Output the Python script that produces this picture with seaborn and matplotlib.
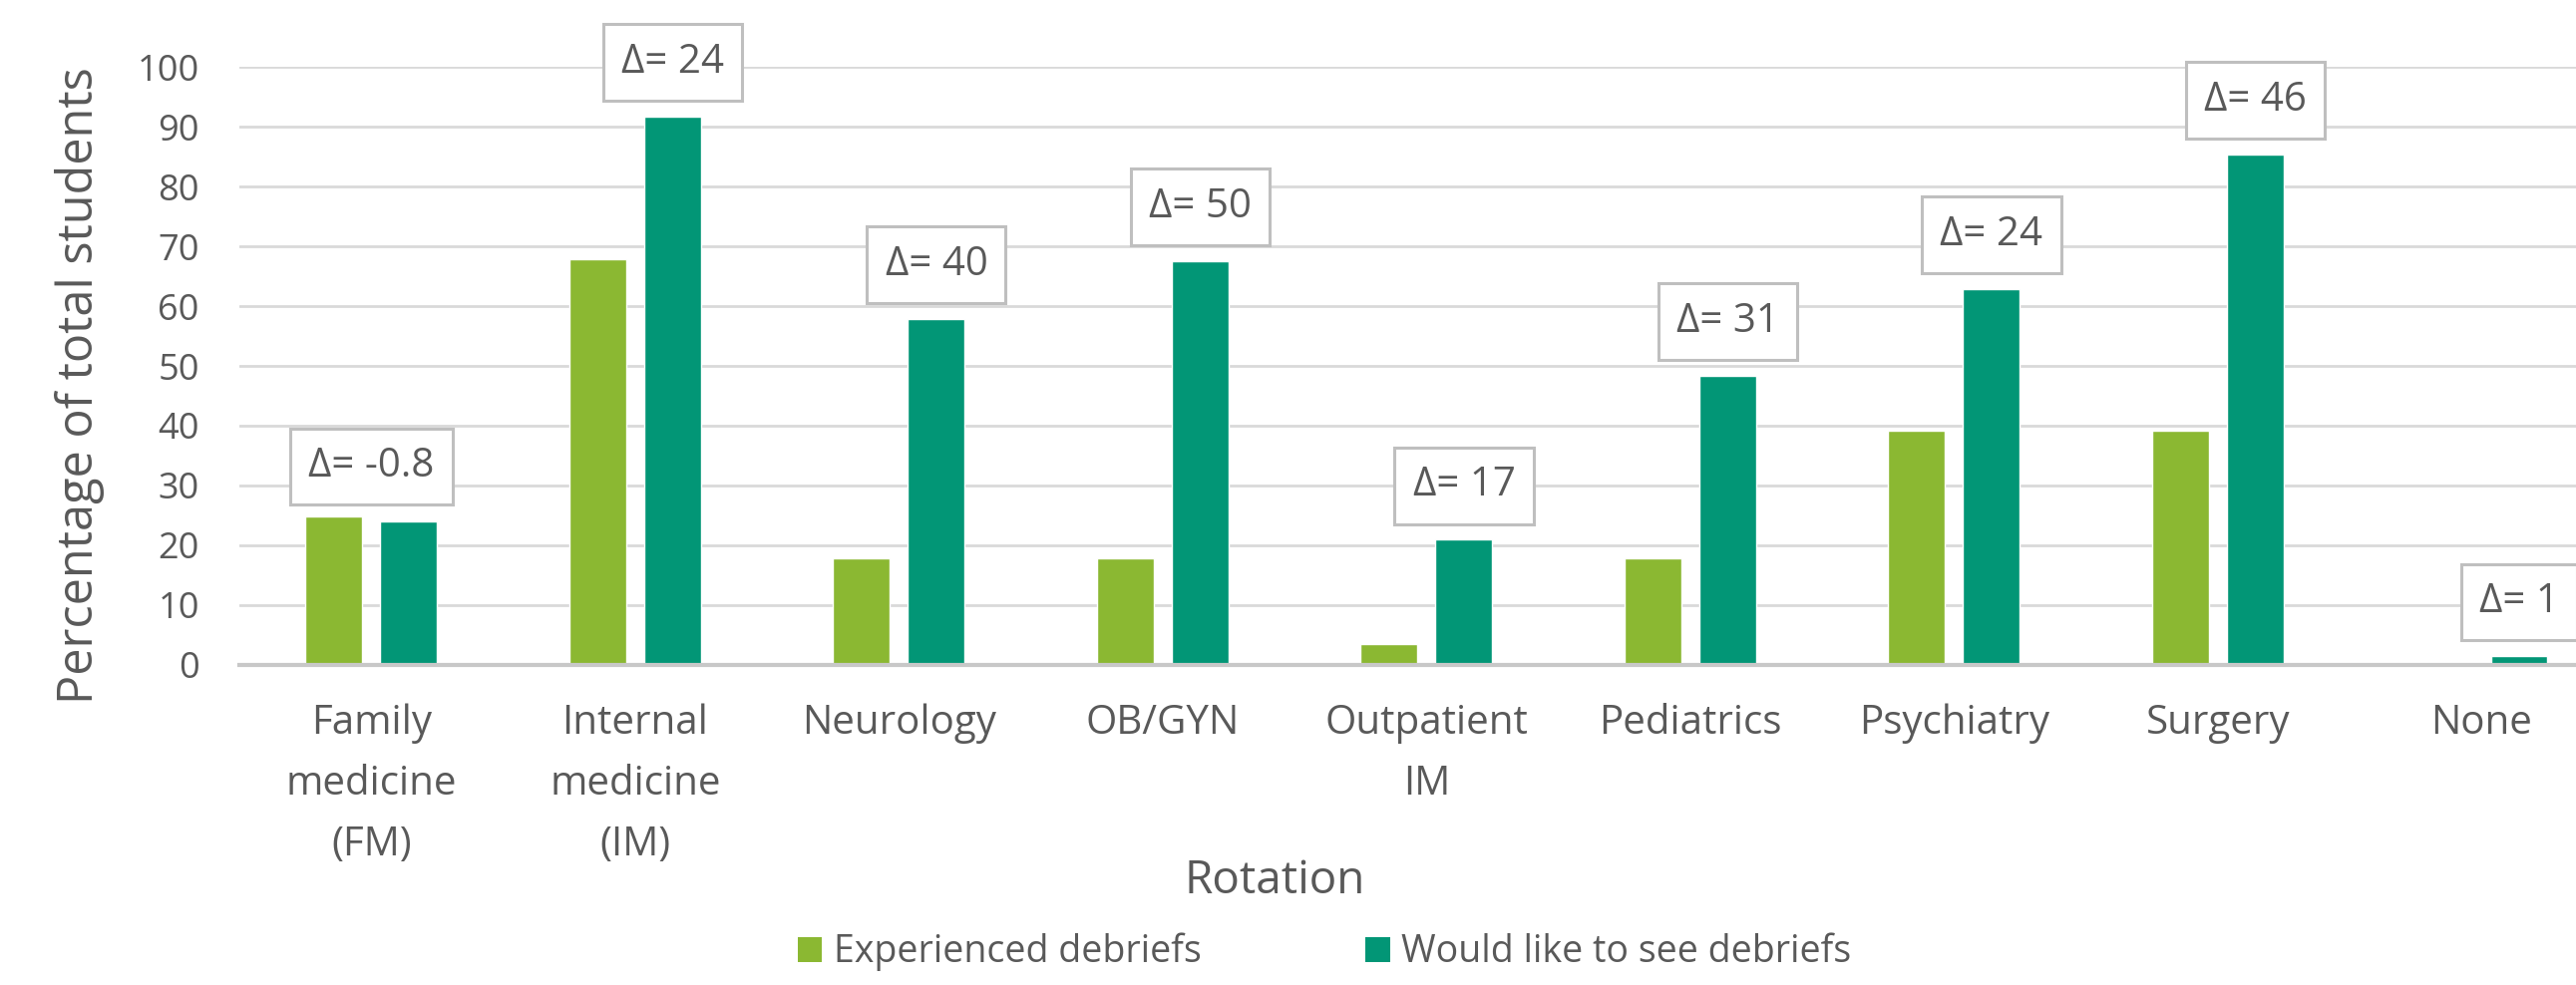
import matplotlib
matplotlib.use("Agg")
import matplotlib.pyplot as plt
from matplotlib.patches import Patch
import seaborn as sns
import pandas as pd

# Rotation categories and survey percentages
rotations = ["Family\nmedicine\n(FM)", "Internal\nmedicine\n(IM)", "Neurology", "OB/GYN",
             "Outpatient\nIM", "Pediatrics", "Psychiatry", "Surgery", "None"]
series = ["Experienced debriefs", "Would like to see debriefs"]
experienced = [24.8, 67.9, 17.7, 17.7, 3.5, 17.7, 39.1, 39.1, 0.0]
would_like = [24.0, 91.8, 57.9, 67.6, 20.9, 48.4, 62.9, 85.4, 1.4]
delta_labels = ["Δ= -0.8", "Δ= 24", "Δ= 40", "Δ= 50", "Δ= 17", "Δ= 31", "Δ= 24", "Δ= 46", "Δ= 1"]
y_ticks = list(range(0, 101, 10))

colors = ["#8BB832", "#029676"]
text_color = "#595959"

sns.set_theme(style="white")
plt.rcParams["font.family"] = ["Open Sans", "DejaVu Sans"]

W, H = 2583, 988
fig = plt.figure(figsize=(W / 100, H / 100), dpi=100)
left_px, right_px, top_px, bottom_px = 240, 2583, 67.5, 666.5
ax = fig.add_axes([left_px / W, 1 - bottom_px / H,
                   (right_px - left_px) / W, (bottom_px - top_px) / H])

df = pd.DataFrame({
    "Rotation": rotations * 2,
    "Percentage": experienced + would_like,
    "Series": [series[0]] * len(rotations) + [series[1]] * len(rotations),
})

sns.barplot(data=df, x="Rotation", y="Percentage", hue="Series",
            order=rotations, hue_order=series,
            palette=dict(zip(series, colors)), saturation=1,
            width=0.57, gap=0.244, legend=False, ax=ax)

ax.set_ylim(0, 100)
ax.set_xlim(-0.5, 8.358)
ax.set_yticks(y_ticks)
ax.set_axisbelow(True)
ax.yaxis.grid(True, color="#d9d9d9", linewidth=2)
ax.xaxis.grid(False)
for side in ["left", "right", "top"]:
    ax.spines[side].set_visible(False)
ax.spines["bottom"].set_color("#c8c8c8")
ax.spines["bottom"].set_linewidth(3)
ax.set_xlabel("")
ax.set_ylabel("")
ax.tick_params(axis="y", length=0, pad=29, labelsize=26, labelcolor=text_color)
ax.tick_params(axis="x", length=0, pad=28, labelsize=29, labelcolor=text_color)
for lab in ax.get_xticklabels():
    lab.set_linespacing(1.68)

# Difference call-outs above each pair of bars
teal_bars = ax.containers[1]
for i, (e, w, lab) in enumerate(zip(experienced, would_like, delta_labels)):
    bar = teal_bars[i]
    if w >= e:
        x = bar.get_x() + bar.get_width() / 2
        dy = 39
    else:
        x = i
        dy = 36
    top = max(e, w)
    ax.annotate(lab, xy=(x, top), xytext=(0, dy), textcoords="offset points",
                ha="center", va="center", fontsize=29, color=text_color,
                annotation_clip=False,
                bbox=dict(boxstyle="square,pad=0.45", fc="white",
                          ec="#bfbfbf", lw=2.2))

fig.text(1278 / W, 1 - 884 / H, "Rotation", ha="center", va="center",
         fontsize=33, color=text_color)
fig.text(80 / W, 1 - 387 / H, "Percentage of total students", ha="center",
         va="center", rotation=90, fontsize=35, color=text_color)

handles = [Patch(facecolor=c, edgecolor="none", label=s) for s, c in zip(series, colors)]
fig.legend(handles=handles, loc="center", bbox_to_anchor=(1328 / W, 1 - 955 / H),
           ncol=2, frameon=False, fontsize=27, handlelength=0.65, handleheight=0.65,
           handletextpad=0.3, columnspacing=4.4, labelcolor=text_color)

fig.savefig("out.png", dpi=100, facecolor="white")
